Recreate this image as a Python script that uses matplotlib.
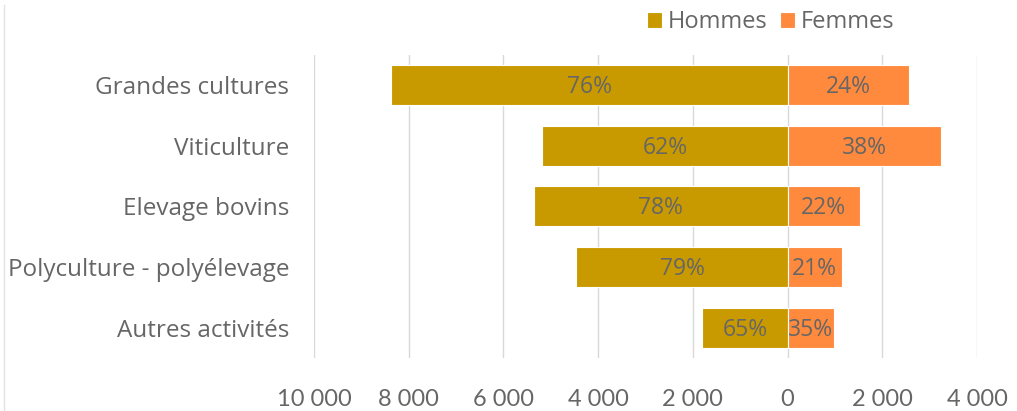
import matplotlib.pyplot as plt
from matplotlib.lines import Line2D
from matplotlib.ticker import FuncFormatter

plt.rcParams['font.family'] = ['Open Sans', 'DejaVu Sans']

categories = ["Grandes cultures", "Viticulture", "Elevage bovins",
              "Polyculture - polyélevage", "Autres activités"]
hommes = [8380, 5180, 5350, 4460, 1800]
femmes = [2570, 3230, 1530, 1140, 970]
pct_hommes = ["76%", "62%", "78%", "79%", "65%"]
pct_femmes = ["24%", "38%", "22%", "21%", "35%"]

col_h = "#C99A00"
col_f = "#FF8A3D"
txt = "#666666"

fig = plt.figure(figsize=(10.17, 4.11), dpi=100)
ax = fig.add_axes([0.3088, 0.129, 0.6519, 0.7372])

y = list(range(len(categories)))
bh = ax.barh(y, [-v for v in hommes], height=0.66, color=col_h,
             edgecolor="white", linewidth=0.8, label="Hommes", zorder=2)
bf = ax.barh(y, femmes, height=0.66, color=col_f,
             edgecolor="white", linewidth=0.8, label="Femmes", zorder=2)

for i in y:
    ax.text(-hommes[i] / 2, i + 0.03, pct_hommes[i], ha="center", va="center",
            fontsize=16.5, color=txt, zorder=3)
    ax.text(femmes[i] / 2, i + 0.03, pct_femmes[i], ha="center", va="center",
            fontsize=16.5, color=txt, zorder=3)

ax.set_xlim(-10000, 4000)
ax.set_ylim(4.5, -0.5)
ax.set_xticks(range(-10000, 4001, 2000))
ax.xaxis.set_major_formatter(FuncFormatter(
    lambda v, p: "{:,}".format(int(abs(v))).replace(",", " ")))
ax.set_yticks(y)
ax.set_yticklabels(categories, fontsize=17.5)
ax.tick_params(axis="both", length=0, colors=txt)
ax.tick_params(axis="x", pad=22)
ax.tick_params(axis="y", pad=18)
for lab in ax.get_xticklabels():
    lab.set_family(["Lato", "DejaVu Sans"])
    lab.set_fontsize(17)
ax.grid(axis="x", color="#d9d9d9", linewidth=1, zorder=0)
ax.set_axisbelow(True)
for s in ax.spines.values():
    s.set_visible(False)

fig.legend(handles=[bh, bf], loc="center right",
           bbox_to_anchor=(904 / 1017, 1 - 22 / 411), ncol=2, frameon=False,
           fontsize=17, labelcolor=txt, handlelength=0.65, handleheight=0.65,
           handletextpad=0.25, columnspacing=0.5, borderaxespad=0)

# faint frame edge on the left, as in the source image
fig.add_artist(Line2D([3.5 / 1017, 3.5 / 1017], [0, 1 - 5 / 411],
                      color="#e3e3e3", linewidth=1))

fig.savefig("out.png", dpi=100)
